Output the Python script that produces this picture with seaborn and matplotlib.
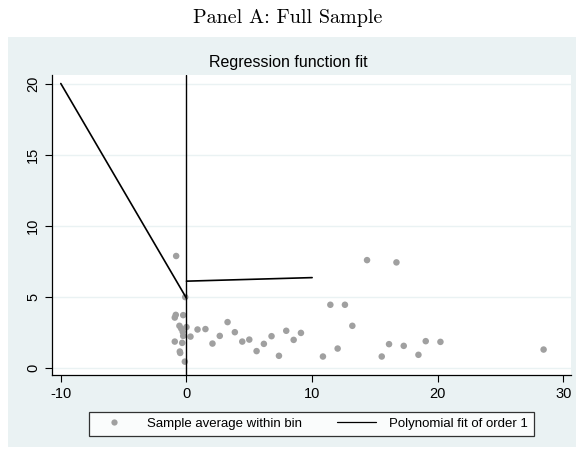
import matplotlib
matplotlib.use("Agg")
import matplotlib.pyplot as plt
import matplotlib.patches as mpatches
from matplotlib.lines import Line2D
import seaborn as sns
import pandas as pd

# --- data ---
bin_x = [-0.85, -0.93, -0.26, -0.56, -0.42, 0.0, -0.30, 0.88, -0.26, 0.32, -0.93, -0.34,
         -0.53, -0.50, -0.13, -0.10, -0.82,
         1.51, 3.27, 2.65, 2.07, 3.85, 4.44, 5.00, 5.58, 6.16, 6.77, 7.36, 7.94, 8.53, 9.11,
         10.86, 11.45, 12.03, 12.61, 13.20, 14.37, 15.54, 16.12, 16.71, 17.29, 18.46, 19.04,
         20.21, 28.42]
bin_y = [3.73, 3.54, 3.71, 2.96, 2.77, 2.87, 2.54, 2.70, 2.25, 2.20, 1.85, 1.76,
         1.15, 1.05, 0.44, 4.98, 7.87,
         2.73, 3.22, 2.25, 1.71, 2.51, 1.85, 1.99, 1.18, 1.69, 2.23, 0.85, 2.61, 1.97, 2.46,
         0.80, 4.44, 1.36, 4.44, 2.96, 7.58, 0.80, 1.67, 7.42, 1.55, 0.92, 1.88,
         1.83, 1.29]
fit_left_x = [-10, 0]
fit_left_y = [20.0, 4.9]
fit_right_x = [0, 10]
fit_right_y = [6.1, 6.35]
cutoff = 0
xticks = [-10, 0, 10, 20, 30]
yticks = [0, 5, 10, 15, 20]

sns.set_style("white")
plt.rcParams["font.family"] = ["Liberation Sans", "DejaVu Sans"]
plt.rcParams["axes.unicode_minus"] = False
for k in ["text.color", "axes.labelcolor", "xtick.color", "ytick.color"]:
    plt.rcParams[k] = "black"

W, H = 576, 453
fig = plt.figure(figsize=(W / 100, H / 100), dpi=100, facecolor="white")
bg = "#EAF2F3"
fig.patches.append(mpatches.Rectangle((8 / W, (H - 447) / H), 1 - 8 / W, (447 - 37) / H,
                                      transform=fig.transFigure, facecolor=bg,
                                      edgecolor="none", zorder=-10))

ax = fig.add_axes([52 / W, (H - 375) / H, (571 - 52) / W, (375 - 75) / H])
ax.set_zorder(1)
ax.set_facecolor("white")

df_pts = pd.DataFrame({"x": bin_x, "y": bin_y})
sns.scatterplot(data=df_pts, x="x", y="y", ax=ax, color="#A0A0A0", s=22,
                edgecolor="none", zorder=3)
sns.lineplot(x=fit_left_x, y=fit_left_y, ax=ax, color="black", lw=1.2, zorder=4)
sns.lineplot(x=fit_right_x, y=fit_right_y, ax=ax, color="black", lw=1.2, zorder=4)
ax.axvline(cutoff, color="black", lw=1.0, zorder=4)

ax.set_xlim(-10.7, 30.6)
ax.set_ylim(-0.5, 20.6)
ax.set_xticks(xticks)
ax.set_yticks(yticks)
ax.set_xticklabels([str(t) for t in xticks])
ax.set_yticklabels([str(t) for t in yticks], rotation=90, va="center")
ax.tick_params(axis="both", direction="out", length=5, width=0.8, color="black",
               labelcolor="black", labelsize=10.5, bottom=True, left=True)
ax.yaxis.grid(True, color=bg, lw=1.0)
ax.xaxis.grid(False)
ax.set_axisbelow(True)
for side in ["top", "right"]:
    ax.spines[side].set_visible(False)
for side in ["left", "bottom"]:
    ax.spines[side].set_color("black")
    ax.spines[side].set_linewidth(0.9)
ax.set_xlabel("")
ax.set_ylabel("")

handles = [Line2D([], [], marker="o", ls="none", color="#A0A0A0", markersize=4.5,
                  markeredgecolor="none"),
           Line2D([], [], color="black", lw=0.9)]
leg = ax.legend(handles, ["Sample average within bin", "Polynomial fit of order 1"],
                loc="upper center", bbox_to_anchor=(0.5, -0.10), ncol=2,
                frameon=True, fancybox=False, edgecolor="black", fontsize=9.5,
                handlelength=3.0, columnspacing=2.6, borderpad=0.45, handletextpad=1.0,
                labelcolor="black")
leg.get_frame().set_linewidth(0.9)

fig.text(0.5, 1 - 62 / H, "Regression function fit", ha="center", va="center",
         fontsize=11.5, color="black")
fig.text(0.5, 1 - 18 / H, "Panel A: Full Sample", ha="center", va="center",
         fontsize=14.5, family="cmr10", color="black")

fig.savefig("out.png", dpi=100, facecolor="white")
